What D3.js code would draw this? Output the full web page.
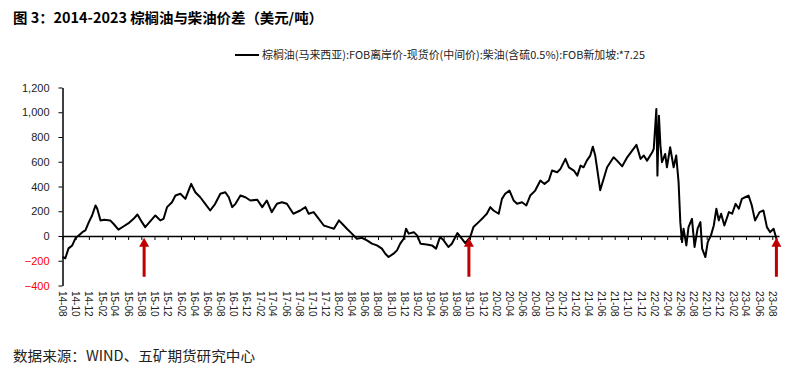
<!DOCTYPE html>
<html>
<head>
<meta charset="utf-8">
<script src="https://cdn.jsdelivr.net/npm/d3@7"></script>
<style>
body { margin: 0; background: #fff; }
</style>
</head>
<body>
<div class="chart"></div>
<script>
var width = 791;
var height = 370;

// palm oil minus diesel spread (USD/t)
var dates = ["2014-08-01","2014-08-14","2014-08-29","2014-09-15","2014-09-30","2014-10-15","2014-11-01","2014-11-15",
  "2014-12-01","2014-12-16","2015-01-01","2015-01-09","2015-01-24","2015-02-09","2015-03-10","2015-03-25",
  "2015-04-17","2015-05-10","2015-06-03","2015-06-26","2015-07-14","2015-08-04","2015-08-19","2015-09-04",
  "2015-10-05","2015-10-28","2015-11-12","2015-11-28","2015-12-21","2016-01-06","2016-01-29","2016-02-21",
  "2016-03-19","2016-04-07","2016-04-30","2016-05-23","2016-06-15","2016-07-08","2016-08-01","2016-08-24",
  "2016-09-09","2016-09-25","2016-10-10","2016-11-02","2016-11-25","2016-12-18","2017-01-19","2017-02-11",
  "2017-03-04","2017-03-27","2017-04-20","2017-05-13","2017-06-05","2017-07-05","2017-08-06","2017-08-30",
  "2017-09-14","2017-10-07","2017-10-31","2017-11-23","2017-12-16","2018-01-09","2018-02-01","2018-02-16",
  "2018-03-10","2018-04-02","2018-04-25","2018-05-18","2018-06-11","2018-07-04","2018-07-27","2018-08-19",
  "2018-09-04","2018-09-19","2018-10-12","2018-10-28","2018-11-12","2018-11-28","2018-12-09","2018-12-21",
  "2019-01-14","2019-01-29","2019-02-14","2019-03-15","2019-04-08","2019-04-27","2019-05-15","2019-06-01",
  "2019-06-23","2019-07-09","2019-08-04","2019-08-24","2019-09-09","2019-10-02","2019-10-17","2019-11-10",
  "2019-12-03","2019-12-18","2020-01-03","2020-01-18","2020-02-11","2020-02-26","2020-03-12","2020-04-01",
  "2020-04-20","2020-05-06","2020-05-29","2020-06-18","2020-07-06","2020-07-29","2020-08-22","2020-09-10",
  "2020-09-30","2020-10-15","2020-11-08","2020-11-23","2020-12-16","2021-01-01","2021-01-24","2021-02-09",
  "2021-02-24","2021-03-10","2021-03-25","2021-04-10","2021-04-22","2021-05-03","2021-05-11","2021-05-26",
  "2021-06-11","2021-06-27","2021-07-12","2021-07-27","2021-08-12","2021-09-05","2021-09-28","2021-10-21",
  "2021-11-10","2021-11-29","2021-12-14","2021-12-29","2022-01-22","2022-01-29","2022-02-10","2022-02-15",
  "2022-02-22","2022-03-01","2022-03-08","2022-03-23","2022-03-31","2022-04-15","2022-05-01","2022-05-13",
  "2022-05-24","2022-06-01","2022-06-09","2022-06-16","2022-06-29","2022-07-09","2022-07-25","2022-08-06",
  "2022-08-20","2022-09-02","2022-09-10","2022-09-25","2022-10-06","2022-10-21","2022-11-03","2022-11-15",
  "2022-11-26","2022-12-07","2022-12-22","2023-01-12","2023-01-27","2023-02-12","2023-02-27","2023-03-13",
  "2023-03-28","2023-04-13","2023-04-28","2023-05-13","2023-06-03","2023-06-21","2023-07-07","2023-07-22",
  "2023-08-07","2023-08-22"];

var spread = [-170,-180,-100,-76,-19,5,31,45,
  112,166,247,220,126,131,126,99,
  51,77,104,139,174,112,72,104,
  166,126,139,233,273,327,341,300,
  421,354,313,260,206,260,341,354,
  313,233,260,327,313,287,293,233,
  287,193,260,273,260,180,206,233,
  180,193,139,85,72,59,126,99,
  59,19,-22,-14,-35,-62,-76,-102,
  -143,-170,-143,-116,-62,-22,59,19,
  31,5,-62,-68,-76,-102,-9,-35,
  -89,-62,24,-22,-57,-9,72,112,
  152,180,233,206,180,300,341,367,
  287,260,273,247,327,367,448,421,
  448,529,515,542,623,555,529,488,
  569,555,609,650,722,650,555,370,
  462,555,596,636,609,563,636,690,
  736,623,650,609,677,704,1026,488,
  972,730,596,663,555,717,555,650,
  434,112,-49,59,-76,72,139,-89,
  59,112,-102,-170,-49,5,85,220,
  126,180,85,193,180,260,220,300,
  313,327,247,126,193,206,72,31,
  59,-35];

var yTicks = [-400, -200, 0, 200, 400, 600, 800, 1000, 1200];

var xTickLabels = ["14-08","14-10","14-12","15-02","15-04","15-06","15-08","15-10","15-12",
  "16-02","16-04","16-06","16-08","16-10","16-12","17-02","17-04","17-06","17-08","17-10","17-12",
  "18-02","18-04","18-06","18-08","18-10","18-12","19-02","19-04","19-06","19-08","19-10","19-12",
  "20-02","20-04","20-06","20-08","20-10","20-12","21-02","21-04","21-06","21-08","21-10","21-12",
  "22-02","22-04","22-06","22-08","22-10","22-12","23-02","23-04","23-06","23-08"];

// the red arrows under the zero crossings
var arrowDates = ["2015-08-14", "2019-09-26", "2023-08-20"];

var parseDay = d3.timeParse("%Y-%m-%d");
var parseTick = d3.timeParse("%y-%m");

var data = dates.map(function(d, i) {
    return { date: parseDay(d), value: spread[i] };
});

var x = d3.scaleTime()
    .domain([parseDay("2014-08-01"), parseDay("2023-09-01")])
    .range([62.5, 779]);
var y = d3.scaleLinear()
    .domain([-400, 1200])
    .range([285.5, 87.5]);

var svg = d3.select(".chart")
    .append("svg")
    .attr("width", width)
    .attr("height", height)
    .style("font-family", "'Liberation Sans', Arial, sans-serif");

svg.append("rect")
    .attr("width", width)
    .attr("height", height)
    .attr("fill", "white");

// title
svg.append("text")
    .attr("x", 13)
    .attr("y", 23)
    .attr("textLength", 310)
    .attr("lengthAdjust", "spacingAndGlyphs")
    .style("font-family", "'Noto Sans CJK SC', sans-serif")
    .style("font-size", "14px")
    .style("font-weight", "bold")
    .text("图 3：2014-2023 棕榈油与柴油价差（美元/吨）");

// legend
svg.append("line")
    .attr("x1", 235).attr("x2", 259)
    .attr("y1", 55).attr("y2", 55)
    .attr("stroke", "black")
    .attr("stroke-width", 2);

svg.append("text")
    .attr("x", 262)
    .attr("y", 59)
    .attr("textLength", 383)
    .attr("lengthAdjust", "spacingAndGlyphs")
    .style("font-family", "'Noto Sans CJK SC', sans-serif")
    .style("font-size", "11px")
    .attr("fill", "#222")
    .text("棕榈油(马来西亚):FOB离岸价-现货价(中间价):柴油(含硫0.5%):FOB新加坡:*7.25");

// y axis
var yAxis = d3.axisLeft(y)
    .tickValues(yTicks)
    .tickSize(4)
    .tickSizeOuter(0)
    .tickFormat(d3.format(","));

var gy = svg.append("g")
    .attr("transform", "translate(62.5, 0)")
    .call(yAxis);
gy.select(".domain").attr("stroke-width", 1.5);
gy.selectAll("text")
    .attr("x", -13)
    .style("font-size", "11px")
    .attr("fill", function(d) { return d < 0 ? "#FF0000" : "#222"; });

// x axis sits on the zero line
var tickDates = xTickLabels.map(function(s) { return parseTick(s); });

var xAxis = d3.axisBottom(x)
    .tickValues(tickDates)
    .tickSize(4)
    .tickSizeOuter(0)
    .tickFormat("");

svg.append("g")
    .attr("transform", "translate(0, " + y(0) + ")")
    .call(xAxis)
  .select(".domain")
    .attr("stroke-width", 1.5);

// month labels at the bottom, rotated
svg.append("g")
    .selectAll("text")
    .data(xTickLabels)
    .enter().append("text")
    .attr("transform", function(d) {
        return "translate(" + x(parseTick(d)) + ", 291) rotate(90)";
    })
    .attr("dy", "0.35em")
    .style("font-size", "10px")
    .attr("fill", "#222")
    .text(function(d) { return d; });

// series
var line = d3.line()
    .x(function(d) { return x(d.date); })
    .y(function(d) { return y(d.value); });

svg.append("path")
    .datum(data)
    .attr("fill", "none")
    .attr("stroke", "black")
    .attr("stroke-width", 2)
    .attr("stroke-linejoin", "round")
    .attr("d", line);

// arrows
svg.selectAll(".arrow")
    .data(arrowDates)
    .enter().append("path")
    .attr("class", "arrow")
    .attr("fill", "#C00000")
    .attr("d", function(d) {
        var px = x(parseDay(d));
        var tip = y(-14);
        var base = y(-330);
        return "M" + px + "," + tip +
            "L" + (px + 5) + "," + (tip + 9) +
            "L" + (px + 1.5) + "," + (tip + 9) +
            "L" + (px + 1.5) + "," + base +
            "L" + (px - 1.5) + "," + base +
            "L" + (px - 1.5) + "," + (tip + 9) +
            "L" + (px - 5) + "," + (tip + 9) + "Z";
    });

// source
svg.append("text")
    .attr("x", 13)
    .attr("y", 361)
    .attr("textLength", 242)
    .attr("lengthAdjust", "spacingAndGlyphs")
    .style("font-family", "'Noto Sans CJK SC', sans-serif")
    .style("font-size", "14px")
    .attr("fill", "#222")
    .text("数据来源：WIND、五矿期货研究中心");
</script>
</body>
</html>
